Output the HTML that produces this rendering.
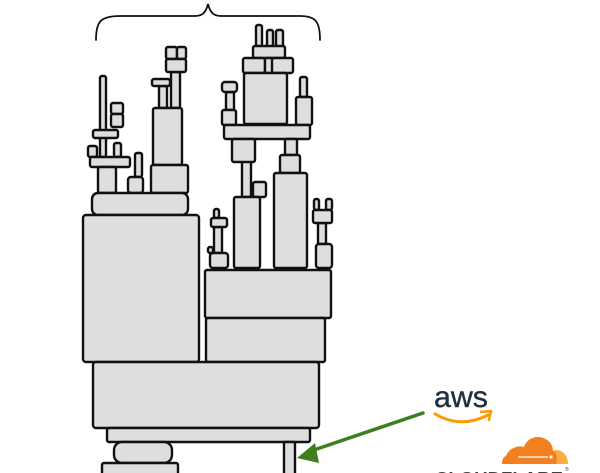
<!DOCTYPE html>
<html>
<head>
<meta charset="utf-8">
<style>
html,body{margin:0;padding:0;background:#fff;}
svg{display:block;}
</style>
</head>
<body>
<svg width="600" height="473" viewBox="0 0 600 473" xmlns="http://www.w3.org/2000/svg">
<g fill="none" stroke="#111" stroke-width="1.8" stroke-linecap="round">
<path d="M96,40 C96,22 100,16 120,16 L195,16 C203,16 206,12 208,4 C210,12 213,16 221,16 L300,16 C316,16 320,22 320,40"/>
</g>
<g fill="#dedede" stroke="#111" stroke-width="2.4" stroke-linejoin="round">
<!-- left tower -->
<rect x="100" y="76" width="6" height="81" rx="2"/>
<rect x="111" y="103" width="12" height="11" rx="2"/>
<rect x="111" y="114" width="12" height="13" rx="2"/>
<rect x="93" y="130" width="25" height="8" rx="2"/>
<rect x="88" y="146" width="9" height="11" rx="2"/>
<rect x="114" y="143" width="7" height="14" rx="2"/>
<rect x="90" y="157" width="40" height="10" rx="2"/>
<rect x="98" y="167" width="18" height="26" rx="2"/>
<rect x="135" y="153" width="7" height="24" rx="2"/>
<rect x="128" y="177" width="15" height="16" rx="3"/>
<rect x="159" y="86" width="8" height="22" rx="1"/>
<rect x="152" y="79" width="18" height="7" rx="2"/>
<rect x="171" y="72" width="9" height="36" rx="1"/>
<rect x="166" y="47" width="11" height="12" rx="2"/>
<rect x="177" y="47" width="9" height="12" rx="2"/>
<rect x="166" y="59" width="20" height="13" rx="2"/>
<rect x="153" y="108" width="29" height="57" rx="2"/>
<rect x="151" y="165" width="37" height="28" rx="2"/>
<rect x="92" y="193" width="96" height="22" rx="6"/>
<rect x="83" y="215" width="116" height="147" rx="3"/>
<!-- right tower -->
<rect x="256" y="25" width="6" height="22" rx="2"/>
<rect x="267" y="30" width="6" height="17" rx="2"/>
<rect x="276" y="30" width="7" height="17" rx="2"/>
<rect x="253" y="46" width="32" height="12" rx="2"/>
<rect x="243" y="58" width="22" height="15" rx="2"/>
<rect x="265" y="58" width="8" height="15" rx="1"/>
<rect x="272" y="58" width="21" height="15" rx="2"/>
<rect x="244" y="73" width="43" height="51" rx="2"/>
<rect x="226" y="92" width="8" height="18" rx="1"/>
<rect x="222" y="82" width="15" height="10" rx="3"/>
<rect x="222" y="110" width="14" height="15" rx="2"/>
<rect x="300" y="77" width="7" height="20" rx="2"/>
<rect x="296" y="97" width="16" height="28" rx="2"/>
<rect x="224" y="125" width="86" height="14" rx="2"/>
<rect x="242" y="160" width="9" height="37" rx="1"/>
<rect x="232" y="139" width="23" height="23" rx="2"/>
<rect x="253" y="182" width="13" height="15" rx="2"/>
<rect x="234" y="197" width="26" height="71" rx="2"/>
<rect x="285" y="139" width="12" height="16" rx="1"/>
<rect x="280" y="155" width="20" height="18" rx="2"/>
<rect x="274" y="173" width="33" height="95" rx="2"/>
<rect x="214" y="209" width="5" height="9" rx="2"/>
<rect x="214" y="227" width="8" height="26" rx="1"/>
<rect x="211" y="218" width="16" height="9" rx="2"/>
<rect x="208" y="247" width="5" height="6" rx="2"/>
<rect x="210" y="253" width="18" height="15" rx="3"/>
<rect x="314" y="199" width="5" height="11" rx="2"/>
<rect x="326" y="199" width="6" height="11" rx="2"/>
<rect x="318" y="223" width="8" height="21" rx="1"/>
<rect x="313" y="210" width="19" height="13" rx="2"/>
<rect x="316" y="244" width="16" height="24" rx="3"/>
<rect x="205" y="270" width="126" height="48" rx="2"/>
<rect x="206" y="318" width="119" height="44" rx="2"/>
<!-- bottom -->
<rect x="93" y="362" width="226" height="66" rx="3"/>
<rect x="107" y="428" width="203" height="14" rx="2"/>
<rect x="114" y="442" width="58" height="21" rx="8"/>
<rect x="102" y="463" width="76" height="20" rx="2"/>
<rect x="284" y="442" width="11" height="40" rx="1"/>
</g>
<!-- arrow -->
<line x1="423" y1="413" x2="308" y2="452" stroke="#3d7f1f" stroke-width="3.5" stroke-linecap="round"/>
<polygon points="297,458 315,443 319,463" fill="#3d7f1f"/>
<!-- aws -->
<text x="434" y="407" font-family="Liberation Sans, sans-serif" font-size="30" fill="#232f3e" stroke="#232f3e" stroke-width="0.4" textLength="54" lengthAdjust="spacingAndGlyphs">aws</text>
<path d="M435,414 Q461,429 488,415" fill="none" stroke="#ff9900" stroke-width="3" stroke-linecap="round"/>
<path d="M481,412 L491,411 L489,420" fill="none" stroke="#ff9900" stroke-width="2.5" stroke-linecap="round" stroke-linejoin="round"/>
<!-- cloudflare -->
<g>
<path d="M552,464 L568,464 C568,456 563,450 556,450 C554,450 553,451 552,452 Z" fill="#fbad41"/>
<path d="M502,464 L556,464 C558,458 557,452 553,451 C553,443 546,437 538,437 C531,437 526,441 524,447 C521,446 517,446 514,448 C510,449 507,453 506,456 C503,457 502,460 502,464 Z" fill="#f38020"/>
<line x1="518" y1="457" x2="548" y2="457" stroke="#fff" stroke-width="1.3"/>
<circle cx="551" cy="457" r="1.6" fill="#fff"/>
</g>
<text x="435" y="485" font-family="Liberation Sans, sans-serif" font-weight="bold" font-size="18" fill="#404041" textLength="128" lengthAdjust="spacingAndGlyphs">CLOUDFLARE</text>
<text x="565" y="471" font-family="Liberation Sans, sans-serif" font-size="5" fill="#404041">®</text>
</svg>
</body>
</html>
